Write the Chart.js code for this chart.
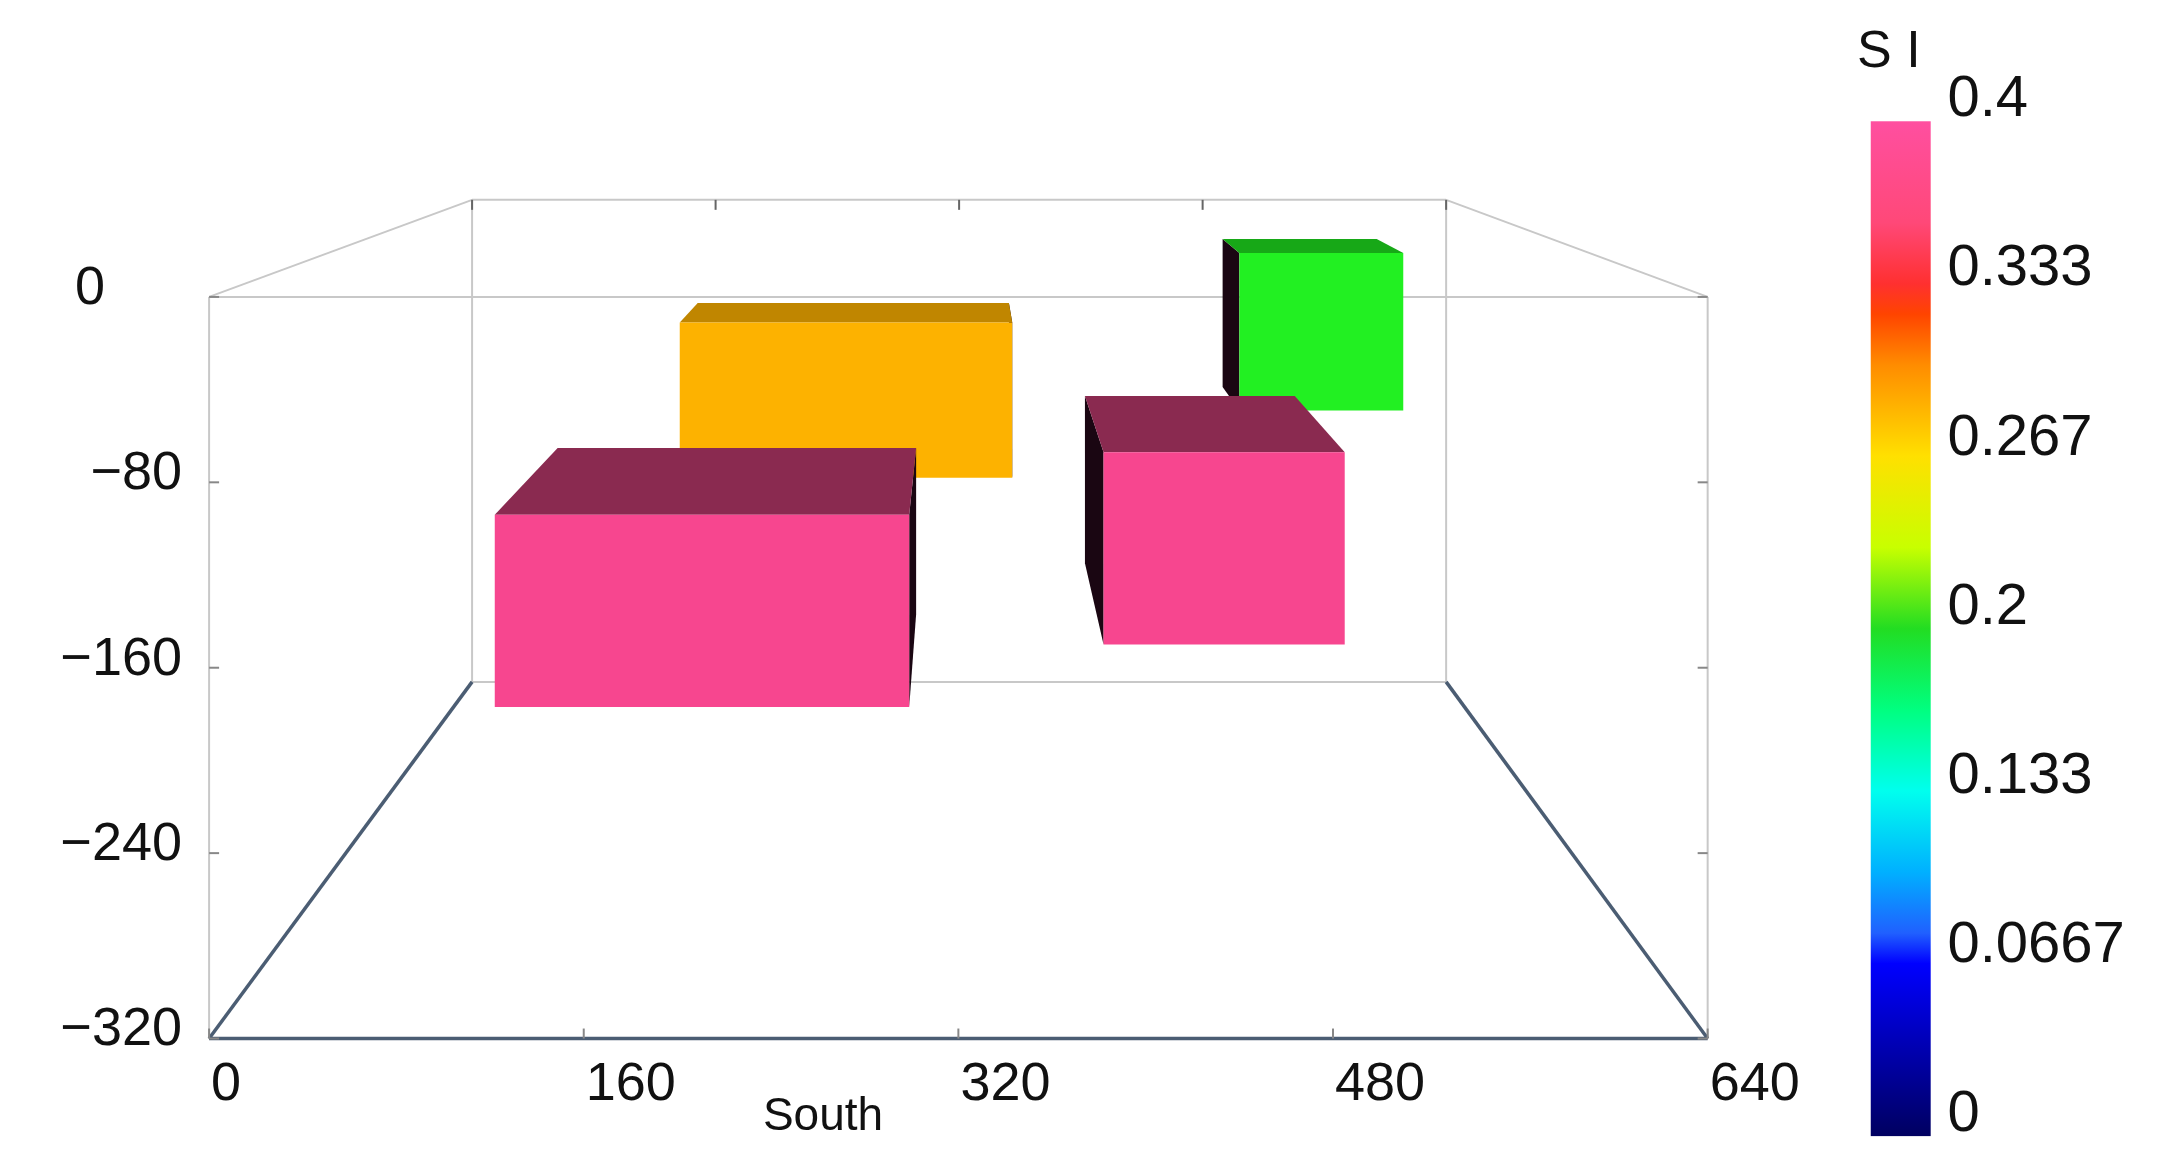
<!DOCTYPE html>
<html><head><meta charset="utf-8">
<script src="https://cdn.jsdelivr.net/npm/chart.js@4"></script>
<style>body{margin:0;background:#fff}canvas{display:block}</style></head>
<body><canvas id="c" width="2175" height="1171"></canvas>
<script>
// ---- data ----
const xTicks = [0, 160, 320, 480, 640];
const zTicks = [0, -80, -160, -240, -320];
const boxNames = ['green', 'orange', 'pinkRight', 'pinkLeft'];
const boxX0 = [440, 201, 382, 122];
const boxX1 = [510, 343, 485, 299];
const boxZTop = [19, -11, -67, -94];
const boxZBottom = [-49, -78, -150, -177];
const boxDepth = [0.06, 0.064, 0.13, 0.135];
const boxSI = [0.2, 0.29, 0.4, 0.4];
const siTicks = ['0.4', '0.333', '0.267', '0.2', '0.133', '0.0667', '0'];

const S = 1.394;
const frameDepth = 0.35;
function siColor(v) {
  if (v >= 0.36) return ['#f7468f', '#8a2a50'];
  if (v >= 0.25) return ['#fdb200', '#c08600'];
  return ['#22f022', '#17a817'];
}
const cbStops = [
  [0, '#ff4fa0'], [0.1, '#ff4878'], [0.16, '#ff3030'], [0.19, '#ff4400'], [0.24, '#ff8c00'],
  [0.33, '#ffe000'], [0.42, '#c8ff00'], [0.5, '#22dd22'], [0.58, '#00ff80'], [0.66, '#00ffee'],
  [0.74, '#00b0ff'], [0.8, '#2060ff'], [0.83, '#0000ff'], [1, '#000060']
];

const plugin = {
  id: 'box3d',
  afterDraw(chart) {
    const ctx = chart.ctx, xs = chart.scales.x, ys = chart.scales.y, a = chart.chartArea;
    const V = {x: 689 * S, y: 14 * S};
    const P = (x, z, t) => {
      const fx = xs.getPixelForValue(x), fy = ys.getPixelForValue(z);
      return [fx + t * (V.x - fx), fy + t * (V.y - fy)];
    };
    const line = (p, q, col, w) => {
      ctx.beginPath(); ctx.moveTo(p[0], p[1]); ctx.lineTo(q[0], q[1]);
      ctx.strokeStyle = col; ctx.lineWidth = w; ctx.stroke();
    };
    const poly = (pts, col) => {
      ctx.beginPath(); ctx.moveTo(pts[0][0], pts[0][1]);
      pts.slice(1).forEach(p => ctx.lineTo(p[0], p[1])); ctx.closePath();
      ctx.fillStyle = col; ctx.fill();
    };
    ctx.save();
    // frame
    const g = '#c8c8c8', dk = '#4b5d73';
    const fd = frameDepth;
    line(P(0, 0, fd), P(640, 0, fd), g, 2);
    line(P(0, 0, fd), P(0, -320, fd), g, 2);
    line(P(640, 0, fd), P(640, -320, fd), g, 2);
    line(P(0, -320, fd), P(640, -320, fd), g, 2);
    line(P(0, 0, 0), P(0, 0, fd), g, 2);
    line(P(640, 0, 0), P(640, 0, fd), g, 2);
    line(P(0, 0, 0), P(640, 0, 0), g, 2);
    line(P(0, 0, 0), P(0, -320, 0), g, 2);
    line(P(640, 0, 0), P(640, -320, 0), g, 2);
    line(P(0, -320, 0), P(640, -320, 0), dk, 3.5);
    line(P(0, -320, 0), P(0, -320, fd), dk, 3.5);
    line(P(640, -320, 0), P(640, -320, fd), dk, 3.5);
    // small tick marks
    xTicks.forEach(v => {
      const p = P(v, 0, fd); line(p, [p[0], p[1] + 10], '#666', 2);
      const q = P(v, -320, 0); line(q, [q[0], q[1] - 10], '#888', 2);
    });
    zTicks.forEach(v => {
      const p = P(640, v, 0); line(p, [p[0] - 10, p[1]], '#888', 2);
      const q = P(0, v, 0); line(q, [q[0] + 10, q[1]], '#888', 2);
    });
    // boxes
    boxNames.forEach((n, i) => {
      const [front, top] = siColor(boxSI[i]);
      const x0 = boxX0[i], x1 = boxX1[i], zt = boxZTop[i], zb = boxZBottom[i], t = boxDepth[i];
      const cx = xs.getPixelForValue((x0 + x1) / 2);
      if (cx < V.x) poly([P(x1, zt, 0), P(x1, zt, t), P(x1, zb, t), P(x1, zb, 0)], '#1a0612');
      else poly([P(x0, zt, 0), P(x0, zt, t), P(x0, zb, t), P(x0, zb, 0)], '#1a0612');
      poly([P(x0, zt, 0), P(x1, zt, 0), P(x1, zt, t), P(x0, zt, t)], top);
      poly([P(x0, zt, 0), P(x1, zt, 0), P(x1, zb, 0), P(x0, zb, 0)], front);
    });
    // tick labels
    ctx.fillStyle = '#111';
    ctx.font = '54px "Liberation Sans", Arial, sans-serif';
    ctx.textBaseline = 'middle';
    ctx.textAlign = 'left';
    xTicks.forEach(v => ctx.fillText(String(v), xs.getPixelForValue(v) + 2, 1085));
    ctx.textAlign = 'right';
    zTicks.forEach((v, k) => ctx.fillText(v === 0 ? '0' : '\u2212' + Math.abs(v), k === 0 ? 105 : 182, ys.getPixelForValue(v) - 8));
    ctx.textAlign = 'center';
    ctx.font = '46px "Liberation Sans", Arial, sans-serif';
    ctx.fillText('South', 823, 1117);
    // colorbar
    const bx = 1342 * S, bw = 43 * S, by = 87 * S, bh = 728 * S;
    const grad = ctx.createLinearGradient(0, by, 0, by + bh);
    cbStops.forEach(s => grad.addColorStop(s[0], s[1]));
    ctx.fillStyle = grad; ctx.fillRect(bx, by, bw, bh);
    ctx.fillStyle = '#111';
    ctx.textAlign = 'left';
    ctx.font = '58px "Liberation Sans", Arial, sans-serif';
    siTicks.forEach((s, k) => ctx.fillText(s, 1397 * S, (72 + k * 121.3) * S));
    ctx.textAlign = 'center';
    ctx.font = '52px "Liberation Sans", Arial, sans-serif';
    ctx.fillText('S I', 1355 * S, 38 * S);
    ctx.restore();
  }
};

new Chart(document.getElementById('c'), {
  type: 'scatter',
  data: {datasets: [{data: [], pointRadius: 0}]},
  options: {
    responsive: false, animation: false, devicePixelRatio: 1,
    layout: {padding: {left: 150 * S, right: 2175 - 1225 * S, top: 213 * S, bottom: 1171 - 745 * S}},
    plugins: {legend: {display: false}, tooltip: {enabled: false}},
    scales: {
      x: {type: 'linear', min: 0, max: 640, display: false},
      y: {type: 'linear', min: -320, max: 0, display: false}
    }
  },
  plugins: [plugin]
});
</script></body></html>
